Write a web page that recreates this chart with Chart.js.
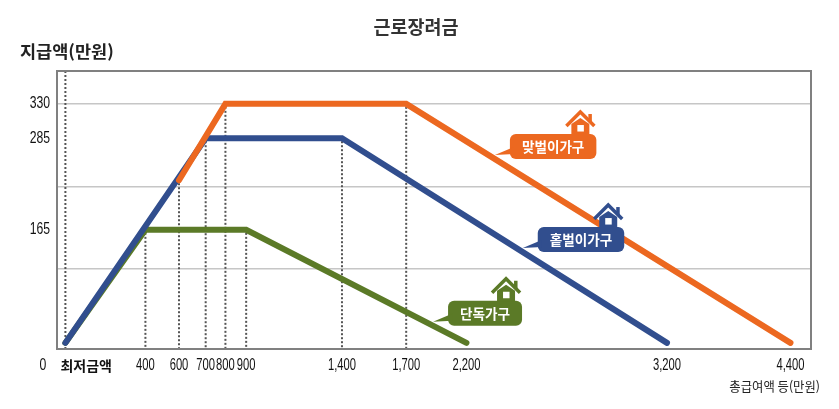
<!DOCTYPE html>
<html lang="ko">
<head>
<meta charset="utf-8">
<title>근로장려금</title>
<script src="https://cdn.jsdelivr.net/npm/chart.js@4.4.1/dist/chart.umd.min.js"></script>
<style>
  html, body { margin: 0; padding: 0; background: #fff; }
  #wrap { width: 839px; height: 409px; }
</style>
</head>
<body>
<div id="wrap"><canvas id="chart" width="839" height="409"></canvas></div>
<script>
// 총급여액(만원) -> 지급액(만원)
const coupleX = [600, 800, 1700, 4400];
const coupleY = [230, 330, 330, 17];
const singleEarnerX = [0, 700, 1400, 3200];
const singleEarnerY = [17, 285, 285, 17];
const soloX = [0, 400, 900, 2200];
const soloY = [17, 165, 165, 17];

const xTickAmounts = [0, 400, 600, 700, 800, 900, 1400, 1700, 2200, 3200, 4400];
const xTickLabels = ['최저금액', '400', '600', '700', '800', '900', '1,400', '1,700', '2,200', '3,200', '4,400'];
// the x axis is not to scale: where each amount sits along it
const xAxisPos = [0, 405, 575, 710, 810, 915, 1400, 1725, 2030, 3045, 3670];

const yTickValues = [114, 165, 222, 285, 330];
const yLabelValues = [165, 285, 330];
const yGridValues = [114, 222, 330];

// dotted drop lines under the corners
const dropAmounts = [400, 600, 700, 800, 900, 1400, 1700];

const ORANGE = '#ec6820';
const BLUE = '#314e8e';
const GREEN = '#5b7a27';

const NUM_FONT = "'Liberation Sans Narrow', 'Arial Narrow', 'Liberation Sans', sans-serif";
const KR_FONT = "'Noto Sans CJK KR', 'Noto Sans', sans-serif";

function toAxis(v) {
    for (let i = 1; i < xTickAmounts.length; i++) {
        if (v <= xTickAmounts[i]) {
            const a = xTickAmounts[i - 1], b = xTickAmounts[i];
            return xAxisPos[i - 1] + (v - a) / (b - a) * (xAxisPos[i] - xAxisPos[i - 1]);
        }
    }
    return xAxisPos[xAxisPos.length - 1];
}

function series(xs, ys) {
    return xs.map((x, i) => ({ x: toAxis(x), y: ys[i] }));
}

const callouts = [
    { text: '맞벌이가구', color: ORANGE, dataset: 0, at: 2174 },
    { text: '홑벌이가구', color: BLUE, dataset: 1, at: 2315 },
    { text: '단독가구', color: GREEN, dataset: 2, at: 1861 }
];

function lineYAt(meta, px) {
    const pts = meta.data;
    for (let i = 1; i < pts.length; i++) {
        if (px <= pts[i].x) {
            const t = (px - pts[i - 1].x) / (pts[i].x - pts[i - 1].x);
            return pts[i - 1].y + t * (pts[i].y - pts[i - 1].y);
        }
    }
    return pts[pts.length - 1].y;
}

// narrow text: the picture uses a condensed face we don't have
function narrowText(ctx, text, x, y, align, sx) {
    ctx.save();
    ctx.translate(x, y);
    ctx.scale(sx, 1);
    ctx.textAlign = align;
    ctx.fillText(text, 0, 0);
    ctx.restore();
}

function narrowWidth(ctx, text, sx) {
    return ctx.measureText(text).width * sx;
}

function roundRect(ctx, x, y, w, h, r) {
    ctx.beginPath();
    ctx.moveTo(x + r, y);
    ctx.arcTo(x + w, y, x + w, y + h, r);
    ctx.arcTo(x + w, y + h, x, y + h, r);
    ctx.arcTo(x, y + h, x, y, r);
    ctx.arcTo(x, y, x + w, y, r);
    ctx.closePath();
}

function drawHouse(ctx, hx, base, color) {
    ctx.save();
    ctx.fillStyle = color;
    ctx.strokeStyle = color;
    // chimney
    ctx.fillRect(hx + 8, base - 20, 3.5, 8);
    // roof
    ctx.lineWidth = 3.5;
    ctx.lineJoin = 'miter';
    ctx.beginPath();
    ctx.moveTo(hx - 14, base - 8);
    ctx.lineTo(hx, base - 22);
    ctx.lineTo(hx + 14, base - 8);
    ctx.stroke();
    // body
    ctx.beginPath();
    ctx.moveTo(hx - 9, base + 1);
    ctx.lineTo(hx - 9, base - 10);
    ctx.lineTo(hx, base - 16);
    ctx.lineTo(hx + 9, base - 10);
    ctx.lineTo(hx + 9, base + 1);
    ctx.closePath();
    ctx.fill();
    ctx.fillStyle = '#fff';
    ctx.fillRect(hx - 3, base - 9, 6.5, 6.5);
    ctx.restore();
}

const decorPlugin = {
    id: 'decor',
    beforeDatasetsDraw(chart) {
        const { ctx, chartArea: a, scales: { x, y } } = chart;
        ctx.save();
        // dotted drop lines
        ctx.strokeStyle = '#555';
        ctx.lineWidth = 2;
        ctx.setLineDash([2, 2]);
        const full = x.getPixelForValue(toAxis(0));
        ctx.beginPath();
        ctx.moveTo(full, a.top);
        ctx.lineTo(full, a.bottom);
        ctx.stroke();
        dropAmounts.forEach(amt => {
            const u = toAxis(amt);
            let top = null;
            chart.data.datasets.forEach(ds => {
                ds.data.forEach(p => {
                    if (Math.abs(p.x - u) < 1e-6 && (top === null || p.y > top)) top = p.y;
                });
            });
            if (top === null) return;
            const px = x.getPixelForValue(u);
            ctx.beginPath();
            ctx.moveTo(px, y.getPixelForValue(top) + 3);
            ctx.lineTo(px, a.bottom);
            ctx.stroke();
        });
        ctx.setLineDash([]);
        // frame
        ctx.strokeStyle = '#808080';
        ctx.lineWidth = 2;
        ctx.strokeRect(a.left, a.top, a.right - a.left, a.bottom - a.top);
        ctx.restore();
    },
    afterDatasetsDraw(chart) {
        const { ctx, scales: { x } } = chart;
        ctx.save();
        ctx.font = "bold 14px " + KR_FONT;
        ctx.textBaseline = 'middle';
        callouts.forEach(c => {
            const meta = chart.getDatasetMeta(c.dataset);
            const tx = x.getPixelForValue(c.at);
            const ty = lineYAt(meta, tx) - 4;
            const w = narrowWidth(ctx, c.text, 0.97) + 24;
            const h = 25;
            const left = tx + 15;
            const bottom = ty + 4;
            const top = bottom - h;
            ctx.fillStyle = c.color;
            roundRect(ctx, left, top, w, h, 6);
            ctx.fill();
            ctx.beginPath();
            ctx.moveTo(left + 4, bottom - 12);
            ctx.lineTo(left + 4, bottom - 5);
            ctx.lineTo(tx, ty);
            ctx.closePath();
            ctx.fill();
            drawHouse(ctx, left + w - 16, top, c.color);
            ctx.fillStyle = '#fff';
            narrowText(ctx, c.text, left + w / 2, top + h / 2 + 0.5, 'center', 0.97);
        });
        ctx.restore();
    },
    afterDraw(chart) {
        const { ctx, chartArea: a, scales: { x, y } } = chart;
        ctx.save();
        ctx.textBaseline = 'middle';
        // titles
        ctx.fillStyle = '#333';
        ctx.font = "bold 18.5px " + KR_FONT;
        narrowText(ctx, '근로장려금', 416, 27, 'center', 1);
        ctx.fillStyle = '#222';
        ctx.font = "bold 17px " + KR_FONT;
        narrowText(ctx, '지급액(만원)', 20, 52, 'left', 1.03);
        ctx.font = "13px " + KR_FONT;
        narrowText(ctx, '총급여액 등(만원)', 820, 386, 'right', 0.95);

        // x tick labels
        ctx.fillStyle = '#111';
        const labelY = a.bottom + 16.5;
        x.ticks.forEach((t, i) => {
            const txt = xTickLabels[i];
            if (!txt) return;
            const px = x.getPixelForTick(i);
            if (i === 0) {
                ctx.font = "bold 14px " + KR_FONT;
                narrowText(ctx, txt, px - 5, labelY, 'left', 1);
            } else {
                ctx.font = "16.5px " + NUM_FONT;
                narrowText(ctx, txt, px, labelY, 'center', 0.68);
            }
        });
        // y tick labels
        ctx.font = "16.5px " + NUM_FONT;
        y.ticks.forEach((t, i) => {
            if (!yLabelValues.includes(t.value)) return;
            narrowText(ctx, String(t.value), a.left - 7, y.getPixelForTick(i), 'right', 0.74);
        });
        narrowText(ctx, '0', 43, labelY, 'center', 0.74);
        ctx.restore();
    }
};

const lineStyle = {
    borderWidth: 6,
    pointRadius: 0,
    tension: 0,
    fill: false,
    borderCapStyle: 'round',
    borderJoinStyle: 'miter'
};

new Chart(document.getElementById('chart'), {
    type: 'line',
    data: {
        datasets: [
            { label: '맞벌이가구', data: series(coupleX, coupleY), borderColor: ORANGE, ...lineStyle },
            { label: '홑벌이가구', data: series(singleEarnerX, singleEarnerY), borderColor: BLUE, ...lineStyle },
            { label: '단독가구', data: series(soloX, soloY), borderColor: GREEN, ...lineStyle }
        ]
    },
    options: {
        responsive: false,
        animation: false,
        layout: { padding: { top: 71, right: 28, left: 0, bottom: 0 } },
        plugins: { legend: { display: false }, tooltip: { enabled: false } },
        scales: {
            x: {
                type: 'linear',
                min: -42.5,
                max: 3774,
                afterFit: s => { s.height = 60; },
                afterBuildTicks: s => {
                    s.ticks = xTickAmounts.map(v => ({ value: toAxis(v) }));
                },
                grid: { display: false },
                border: { display: false },
                ticks: { display: false }
            },
            y: {
                min: 9,
                max: 373,
                afterFit: s => { s.width = 57; },
                afterBuildTicks: s => { s.ticks = yTickValues.map(v => ({ value: v })); },
                grid: {
                    drawTicks: false,
                    lineWidth: 1.5,
                    color: ctx => yGridValues.includes(ctx.tick && ctx.tick.value) ? '#c6c6c6' : 'rgba(0,0,0,0)'
                },
                border: { display: false },
                ticks: { display: false }
            }
        }
    },
    plugins: [decorPlugin]
});
</script>
</body>
</html>
